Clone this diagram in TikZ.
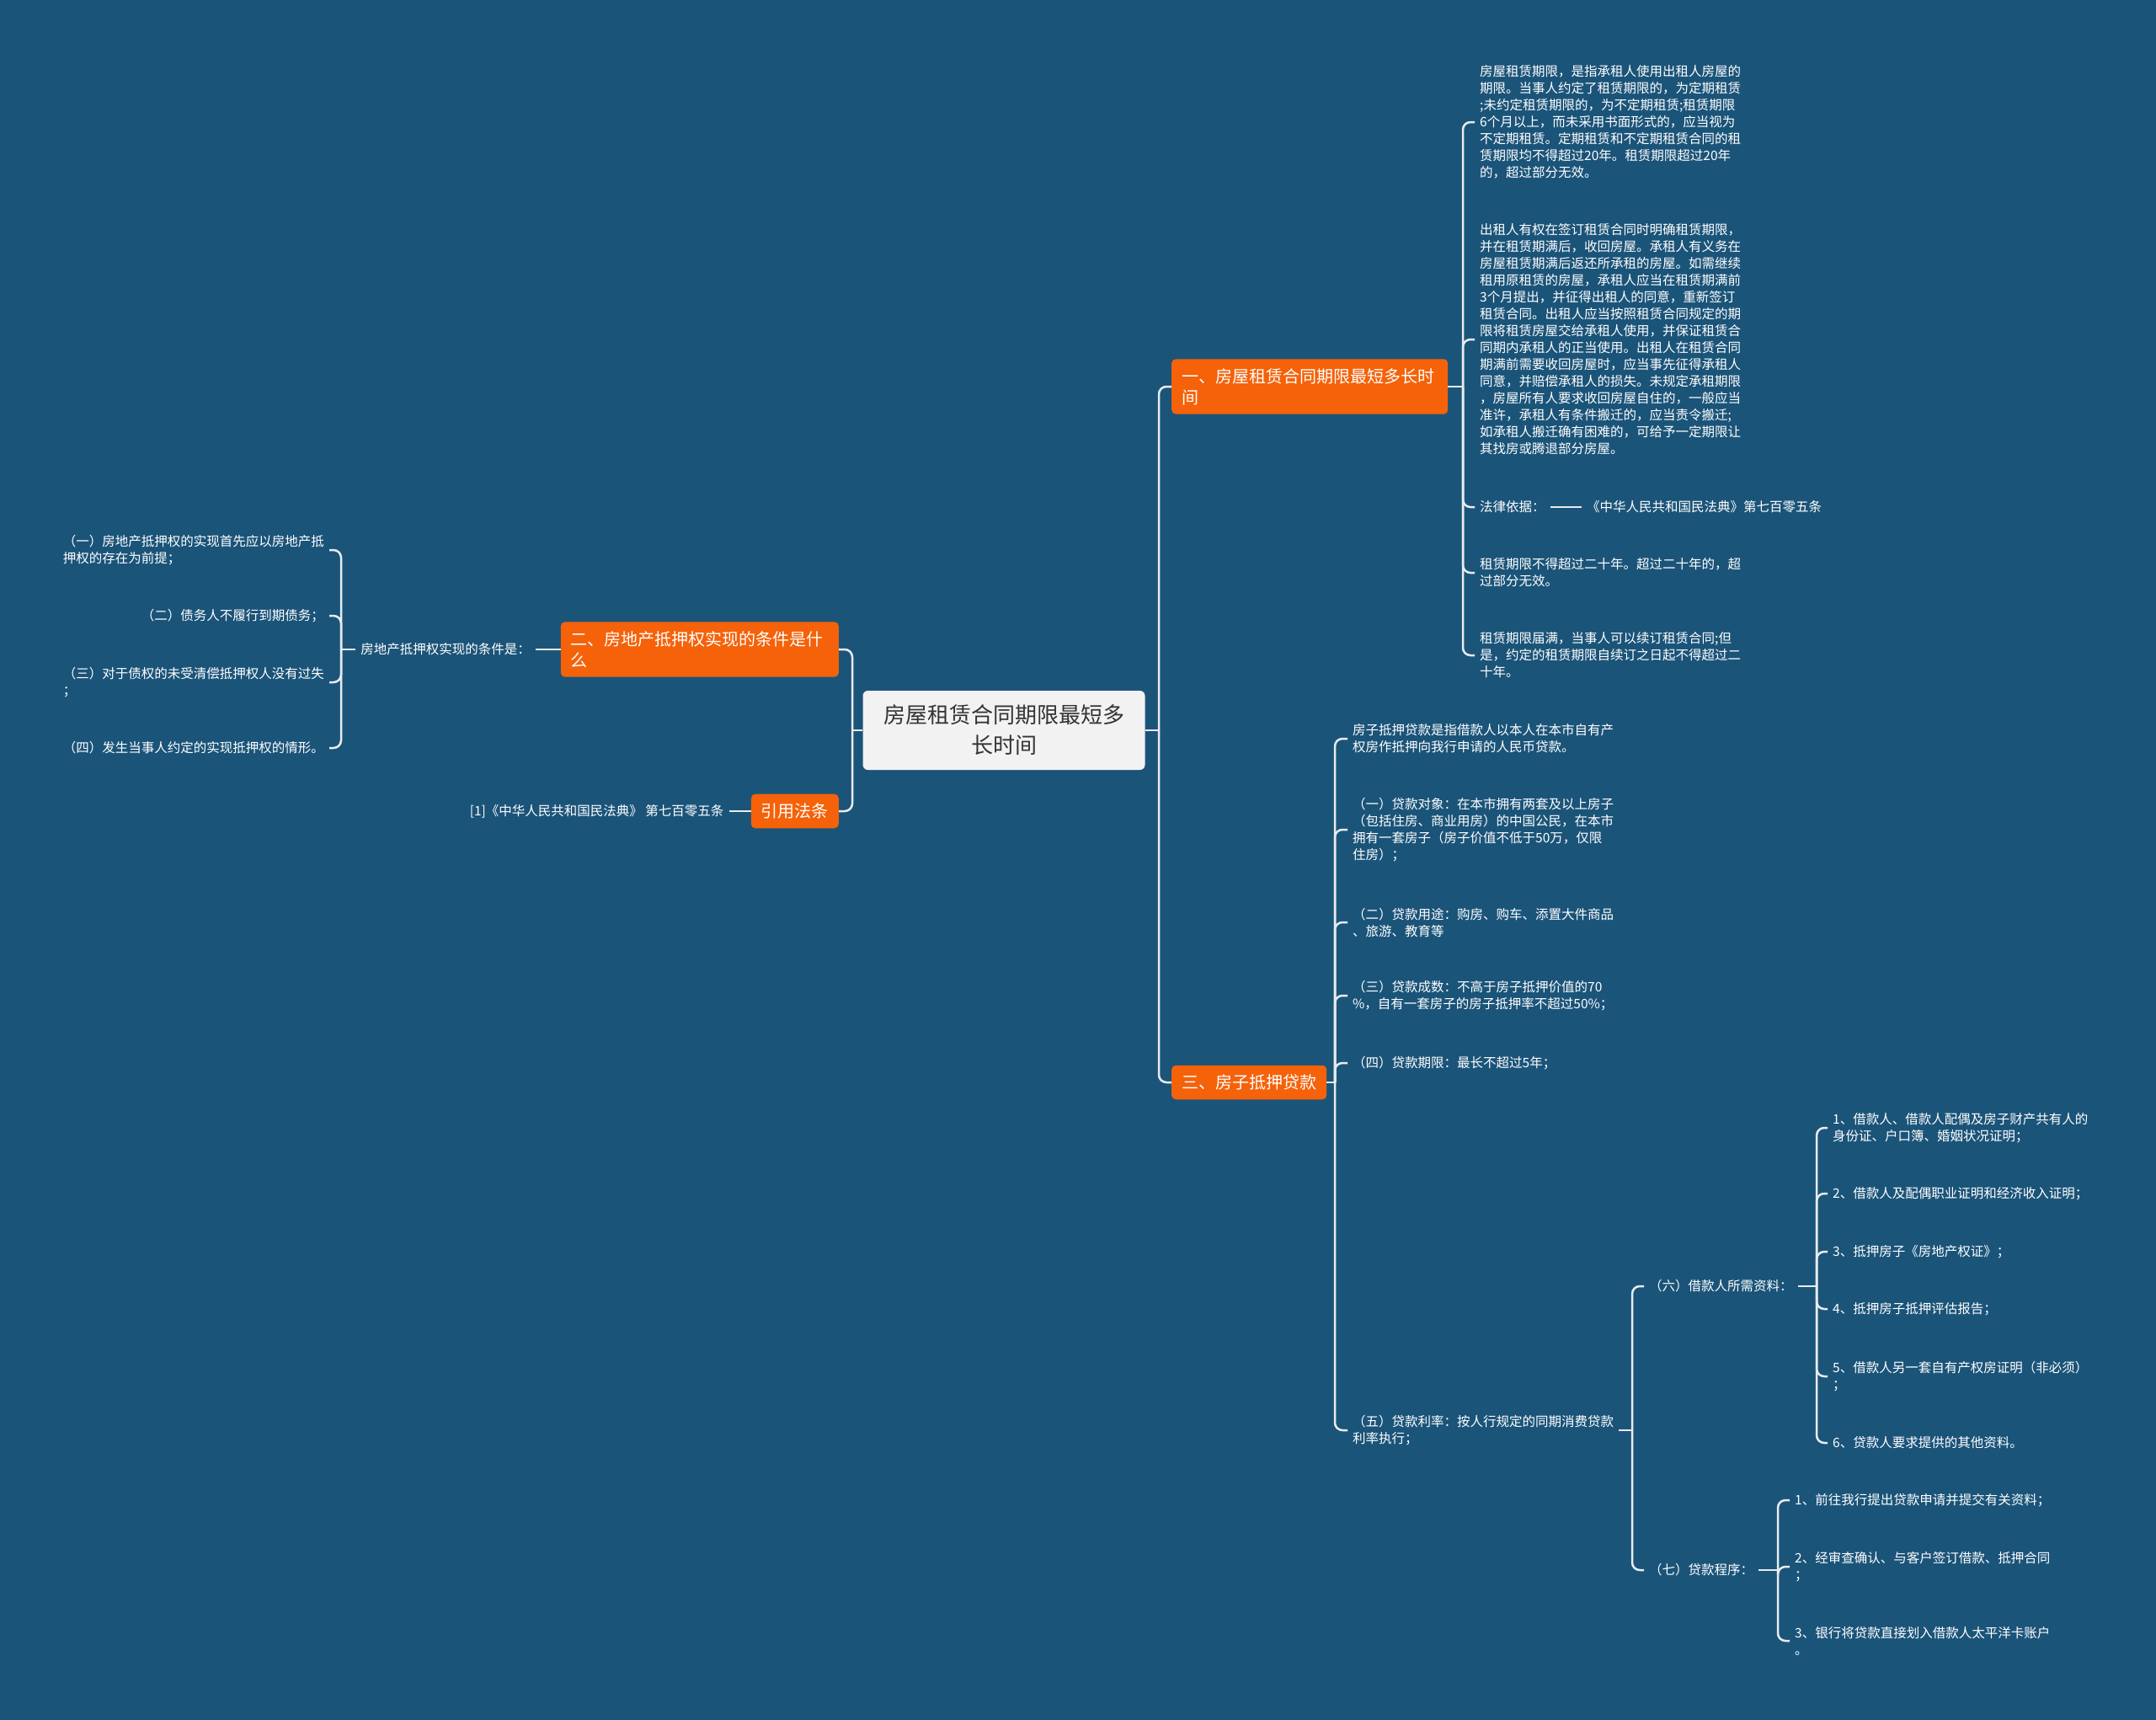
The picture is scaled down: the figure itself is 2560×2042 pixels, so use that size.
\documentclass[tikz,border=0pt]{standalone}
\usepackage{fontspec}
\setmainfont{Noto Sans CJK SC}
\usepackage{tikz}
\usetikzlibrary{positioning}

\definecolor{mapbg}{HTML}{1B5479}
\definecolor{topicorange}{HTML}{F5620A}
\definecolor{rootgray}{HTML}{F2F2F2}
\definecolor{rootink}{HTML}{333333}
\definecolor{linkwhite}{HTML}{E8ECEF}

\begin{document}
\begin{tikzpicture}[
    x=1pt, y=-1pt,
    root/.style={rectangle, rounded corners=6pt, fill=rootgray, text=rootink,
                 font=\fontsize{26}{36}\selectfont, align=center,
                 minimum width=335pt, minimum height=94pt},
    topic/.style={rectangle, rounded corners=5pt, fill=topicorange, text=white,
                  font=\fontsize{20}{25}\selectfont, align=left,
                  inner xsep=12pt, inner ysep=11pt},
    leaf/.style={text=white, font=\fontsize{15.5}{20}\selectfont, align=left,
                 inner xsep=6pt, inner ysep=3pt},
    link/.style={draw=linkwhite, line width=2.5pt, rounded corners=9pt},
    node distance=30pt
  ]

  \fill[mapbg] (0,0) rectangle (2560,2042);
  \useasboundingbox (0,0) rectangle (2560,2042);

  \node[root] (root) at (1192,867) {房屋租赁合同期限最短多\\长时间};

  \node[topic, anchor=west, text width=304pt] (t1) at (1391,459) {一、房屋租赁合同期限最短多长时\\间};
  \node[topic, anchor=east, text width=306pt] (t2) at (996,771) {二、房地产抵押权实现的条件是什\\么};
  \node[topic, anchor=east] (cite) at (996,963)   {引用法条};
  \node[topic, anchor=west] (t3)   at (1391,1285) {三、房子抵押贷款};

  % branch one
  \node[leaf, anchor=west] (a1) at (1751,145) {房屋租赁期限，是指承租人使用出租人房屋的\\期限。当事人约定了租赁期限的，为定期租赁\\;未约定租赁期限的，为不定期租赁;租赁期限\\6个月以上，而未采用书面形式的，应当视为\\不定期租赁。定期租赁和不定期租赁合同的租\\赁期限均不得超过20年。租赁期限超过20年\\的，超过部分无效。};
  \node[leaf, anchor=west] (a2) at (1751,403) {出租人有权在签订租赁合同时明确租赁期限，\\并在租赁期满后，收回房屋。承租人有义务在\\房屋租赁期满后返还所承租的房屋。如需继续\\租用原租赁的房屋，承租人应当在租赁期满前\\3个月提出，并征得出租人的同意，重新签订\\租赁合同。出租人应当按照租赁合同规定的期\\限将租赁房屋交给承租人使用，并保证租赁合\\同期内承租人的正当使用。出租人在租赁合同\\期满前需要收回房屋时，应当事先征得承租人\\同意，并赔偿承租人的损失。未规定承租期限\\，房屋所有人要求收回房屋自住的，一般应当\\准许，承租人有条件搬迁的，应当责令搬迁;\\如承租人搬迁确有困难的，可给予一定期限让\\其找房或腾退部分房屋。};
  \node[leaf, anchor=west] (a3) at (1751,602) {法律依据：};
  \node[leaf, right=37pt of a3] (a3x) {《中华人民共和国民法典》第七百零五条};
  \node[leaf, anchor=west] (a4) at (1751,680) {租赁期限不得超过二十年。超过二十年的，超\\过部分无效。};
  \node[leaf, anchor=west] (a5) at (1751,778) {租赁期限届满，当事人可以续订租赁合同;但\\是，约定的租赁期限自续订之日起不得超过二\\十年。};

  % branch two
  \node[leaf, anchor=east] (e0) at (636,771) {房地产抵押权实现的条件是：};
  \node[leaf, anchor=east] (l1) at (391,653) {（一）房地产抵押权的实现首先应以房地产抵\\押权的存在为前提；};
  \node[leaf, anchor=east] (l2) at (391,731) {（二）债务人不履行到期债务；};
  \node[leaf, anchor=east] (l3) at (391,810) {（三）对于债权的未受清偿抵押权人没有过失\\；};
  \node[leaf, anchor=east] (l4) at (391,888) {（四）发生当事人约定的实现抵押权的情形。};
  \node[leaf, left=26pt of cite] (r1) {[1]《中华人民共和国民法典》 第七百零五条};

  % branch three
  \node[leaf, anchor=west] (b1) at (1600,877)  {房子抵押贷款是指借款人以本人在本市自有产\\权房作抵押向我行申请的人民币贷款。};
  \node[leaf, anchor=west] (b2) at (1600,985)  {（一）贷款对象：在本市拥有两套及以上房子\\（包括住房、商业用房）的中国公民，在本市\\拥有一套房子（房子价值不低于50万，仅限\\住房）；};
  \node[leaf, anchor=west] (b3) at (1600,1095) {（二）贷款用途：购房、购车、添置大件商品\\、旅游、教育等};
  \node[leaf, anchor=west] (b4) at (1600,1182) {（三）贷款成数：不高于房子抵押价值的70\\\%，自有一套房子的房子抵押率不超过50\%；};
  \node[leaf, anchor=west] (b5) at (1600,1262) {（四）贷款期限：最长不超过5年；};
  \node[leaf, anchor=west] (b6) at (1600,1698) {（五）贷款利率：按人行规定的同期消费贷款\\利率执行；};

  \node[leaf, anchor=west] (c6) at (1952,1527) {（六）借款人所需资料：};
  \node[leaf, anchor=west] (c7) at (1952,1864) {（七）贷款程序：};

  \node[leaf, anchor=west] (d1) at (2170,1339) {1、借款人、借款人配偶及房子财产共有人的\\身份证、户口簿、婚姻状况证明；};
  \node[leaf, anchor=west] (d2) at (2170,1417) {2、借款人及配偶职业证明和经济收入证明；};
  \node[leaf, anchor=west] (d3) at (2170,1486) {3、抵押房子《房地产权证》；};
  \node[leaf, anchor=west] (d4) at (2170,1554) {4、抵押房子抵押评估报告；};
  \node[leaf, anchor=west] (d5) at (2170,1634) {5、借款人另一套自有产权房证明（非必须）\\；};
  \node[leaf, anchor=west] (d6) at (2170,1713) {6、贷款人要求提供的其他资料。};

  \node[leaf, anchor=west] (f1) at (2125,1781) {1、前往我行提出贷款申请并提交有关资料；};
  \node[leaf, anchor=west] (f2) at (2125,1860) {2、经审查确认、与客户签订借款、抵押合同\\；};
  \node[leaf, anchor=west] (f3) at (2125,1948) {3、银行将贷款直接划入借款人太平洋卡账户\\。};

  % junctions of the brackets
  \coordinate (jr)  at (1376,867);
  \coordinate (jl)  at (1012,867);
  \coordinate (j1)  at (1737,459);
  \coordinate (j3)  at (1585,1285);
  \coordinate (je)  at (405,771);
  \coordinate (j6)  at (1938,1698);
  \coordinate (jc6) at (2157,1527);
  \coordinate (jc7) at (2111,1864);

  % connectors
  \foreach \a/\b in {root/jr, t1/j1, t3/j3, b6/j6, c6/jc6, c7/jc7}
    \draw[link] (\a.east) -- (\b);
  \foreach \a/\b in {root/jl, e0/je}
    \draw[link] (\a.west) -- (\b);

  \foreach \a/\b in {jr/t1, jr/t3, j1/a1, j1/a2, j1/a3, j1/a4, j1/a5,
                     j3/b1, j3/b2, j3/b3, j3/b4, j3/b5, j3/b6,
                     j6/c6, j6/c7, jc6/d1, jc6/d2, jc6/d3, jc6/d4, jc6/d5, jc6/d6,
                     jc7/f1, jc7/f2, jc7/f3}
    \draw[link] (\a) |- (\b.west);

  \foreach \a/\b in {jl/t2, jl/cite, je/l1, je/l2, je/l3, je/l4}
    \draw[link] (\a) |- (\b.east);

  \draw[link] (a3.east) -- (a3x.west);
  \draw[link] (t2.west) -- (e0.east);
  \draw[link] (cite.west) -- (r1.east);

\end{tikzpicture}
\end{document}
